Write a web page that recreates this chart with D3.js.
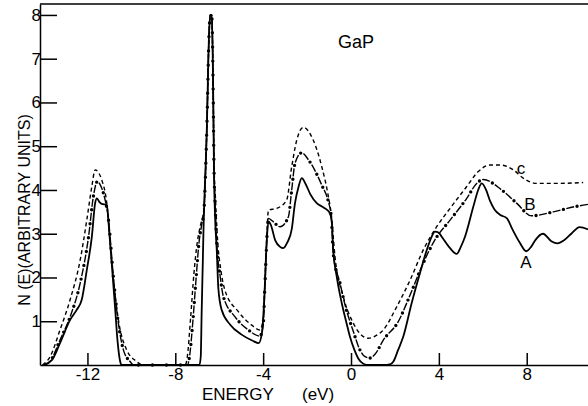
<!DOCTYPE html>
<html>
<head>
<meta charset="utf-8">
<script src="https://cdn.jsdelivr.net/npm/d3@7"></script>
<style type="text/css">
body {
	margin: 0;
	background: #fff;
}
text {
	font-family: "Liberation Sans", Arial, sans-serif;
	fill: #000;
}
.axis path, .axis line {
	stroke: #000;
	stroke-width: 1.5;
}
.curve {
	fill: none;
	stroke: #000;
	stroke-linejoin: round;
}
</style>
</head>
<body>
<svg id="chart" width="588" height="406"></svg>
<script type="text/javascript">
// energy (eV) and N(E), one pair of arrays per curve
var aE = [-14.0,-13.62,-13.25,-12.79,-12.49,-12.26,-12.03,-11.8,-11.65,-11.57,-11.45,-11.35,-11.12,-11.0,-10.89,-10.74,-10.63,-10.51,-10.45,
	-6.9,-6.84,-6.8,-6.75,-6.72,-6.57,-6.46,-6.41,-6.34,-6.3,-6.27,-6.24,-6.19,-6.11,-6.04,-5.89,-5.5,-5.0,-4.5,-4.2,-4.05,-3.95,-3.85,-3.76,-3.65,-3.45,-3.23,-3.08,-2.9,-2.7,-2.55,-2.4,-2.24,-2.05,-1.85,-1.56,-1.25,-1.0,-0.88,-0.81,-0.65,-0.42,-0.2,-0.05,0.15,0.33,0.56,0.8,
	1.5,1.8,1.93,2.15,2.38,2.76,3.14,3.45,3.67,3.82,4.0,4.13,4.51,4.81,5.0,5.19,5.57,5.79,5.95,6.15,6.33,6.54,6.8,7.1,7.35,7.68,7.98,8.2,8.4,8.74,9.12,9.4,9.7,10.03,10.41,10.79];
var aN = [0,0.11,0.5,1.03,1.26,1.49,2.17,2.93,3.7,3.81,3.72,3.68,3.66,3.0,2.3,1.3,0.55,0.08,0,
	0,0.2,1.2,2.3,3.0,5.3,7.6,8.0,8.0,7.2,6.0,4.5,3.4,2.6,1.75,1.26,0.92,0.7,0.56,0.5,0.75,1.5,2.7,3.28,3.2,2.85,2.7,2.67,2.8,3.1,3.7,4.05,4.27,4.12,3.9,3.7,3.6,3.5,3.3,2.63,2.02,1.41,0.95,0.65,0.35,0.15,0.03,0,
	0,0.02,0.08,0.35,0.65,1.41,2.1,2.63,2.93,3.05,3.02,2.93,2.67,2.54,2.7,2.93,3.62,4.0,4.15,4.0,3.75,3.55,3.43,3.35,3.1,2.8,2.6,2.7,2.86,3.0,2.83,2.78,2.85,3.0,3.15,3.1];

var bE = [-13.95,-13.7,-13.25,-12.79,-12.33,-11.95,-11.73,-11.55,-11.4,-11.27,-11.04,-10.82,-10.59,-10.36,-10.06,-9.9,
	-7.45,-7.35,-7.2,-7.05,-6.92,-6.8,-6.7,-6.57,-6.46,-6.41,-6.34,-6.3,-6.27,-6.24,-6.18,-6.1,-5.95,-5.81,-5.28,-4.67,-4.15,-4.0,-3.92,-3.82,-3.76,-3.6,-3.23,-2.85,-2.7,-2.55,-2.24,-1.94,-1.33,-1.03,-0.9,-0.81,-0.5,-0.27,0.11,0.4,0.64,0.86,
	1.1,1.47,2.15,2.69,3.22,3.82,4.51,5.27,5.72,6.02,6.86,7.54,8.22,9.21,10.2,10.79];
var bN = [0,0.08,0.57,1.1,1.87,2.93,3.85,4.19,4.1,3.92,3.31,2.02,0.95,0.34,0.08,0,
	0,0.2,1.0,2.0,2.8,3.2,3.5,5.3,7.6,8.0,8.0,7.2,6.0,4.6,3.6,2.7,2.0,1.56,1.1,0.8,0.66,0.9,1.8,3.0,3.35,3.3,3.16,3.39,4.0,4.61,4.85,4.69,4.11,3.73,3.4,2.55,1.87,1.37,0.76,0.35,0.19,0.16,
	0.25,0.57,0.99,1.6,2.25,2.86,3.31,3.81,4.15,4.24,4.0,3.7,3.41,3.5,3.62,3.67];

var cE = [-14.05,-13.7,-13.25,-12.79,-12.33,-12.03,-11.8,-11.65,-11.5,-11.35,-11.12,-10.89,-10.59,-10.21,-9.75,-9.5,
	-7.55,-7.45,-7.3,-7.15,-7.0,-6.85,-6.7,-6.57,-6.46,-6.41,-6.34,-6.3,-6.27,-6.24,-6.17,-6.08,-5.92,-5.74,-5.13,-4.52,-4.15,-4.0,-3.92,-3.82,-3.76,-3.38,-2.93,-2.7,-2.47,-2.17,-1.72,-1.33,-1.03,-0.9,-0.73,-0.35,0.11,0.56,0.79,
	1.1,1.47,2.08,2.69,3.29,3.9,4.51,5.27,5.79,6.33,6.8,7.39,7.84,8.45,9.36,10.57];
var cN = [0,0.19,0.8,1.49,2.4,3.31,4.08,4.46,4.4,4.23,3.7,2.32,1.03,0.34,0.08,0,
	0,0.2,1.1,2.1,2.8,3.2,3.55,5.3,7.6,8.0,8.0,7.2,6.0,4.7,3.8,2.9,2.15,1.71,1.22,0.91,0.8,1.05,1.9,3.1,3.54,3.58,3.77,4.53,5.14,5.43,5.14,4.53,3.85,3.45,2.48,1.56,0.95,0.65,0.61,
	0.66,0.8,1.33,1.94,2.63,3.16,3.58,4.08,4.42,4.57,4.57,4.46,4.27,4.15,4.15,4.17];

var xTicks = [-12, -8, -4, 0, 4, 8];
var yTicks = [1, 2, 3, 4, 5, 6, 7, 8];

var svg = d3.select("#chart");
var plotLeft = 40, plotRight = 588, plotTop = 4, plotBottom = 365;

var x = d3.scaleLinear().domain([-14.16, 10.79]).range([plotLeft, plotRight]);
var y = d3.scaleLinear().domain([0, 8.25]).range([plotBottom, plotTop]);

function pairs(es, ns) {
	return es.map(function(e, i) { return [e, ns[i]]; });
}

var line = d3.line()
	.x(function(d) { return x(d[0]); })
	.y(function(d) { return y(d[1]); })
	.curve(d3.curveMonotoneX);

// frame top edge
svg.append("line")
	.attr("x1", plotLeft).attr("x2", plotRight)
	.attr("y1", plotTop).attr("y2", plotTop)
	.attr("stroke", "#000").attr("stroke-width", 1.5);

var xAxis = d3.axisBottom(x)
	.tickValues(xTicks)
	.tickSizeInner(-12)
	.tickSizeOuter(0)
	.tickPadding(3)
	.tickFormat(function(d) { return String(d); });

var gx = svg.append("g").attr("class", "axis")
	.attr("transform", "translate(0," + plotBottom + ")")
	.call(xAxis);
gx.selectAll("text").style("font-size", "17px").attr("fill", "#000");

var yAxis = d3.axisLeft(y)
	.tickValues(yTicks)
	.tickSizeInner(-17)
	.tickSizeOuter(0)
	.tickPadding(-1)
	.tickFormat(function(d) { return String(d); });

var gy = svg.append("g").attr("class", "axis")
	.attr("transform", "translate(" + plotLeft + ",0)")
	.call(yAxis);
gy.selectAll("text").style("font-size", "17px").attr("fill", "#000");

// curve A: solid
svg.append("path").attr("class", "curve")
	.attr("d", line(pairs(aE, aN)))
	.attr("stroke-width", 1.8);

// curve B: dash + dot
var bPath = line(pairs(bE, bN));
svg.append("path").attr("class", "curve")
	.attr("d", bPath)
	.attr("stroke-width", 1.4)
	.attr("stroke-dasharray", "8,6");
svg.append("path").attr("class", "curve")
	.attr("d", bPath)
	.attr("stroke-width", 3.4)
	.attr("stroke-linecap", "round")
	.attr("stroke-dasharray", "0,14")
	.attr("stroke-dashoffset", -11);

// curve C: short dashes
svg.append("path").attr("class", "curve")
	.attr("d", line(pairs(cE, cN)))
	.attr("stroke-width", 1.4)
	.attr("stroke-dasharray", "4,3");

// labels
svg.append("text").attr("x", 338).attr("y", 48).style("font-size", "18px").text("GaP");
svg.append("text").attr("x", 521).attr("y", 174).attr("text-anchor", "middle").style("font-size", "17px").text("c");
svg.append("text").attr("x", 530).attr("y", 210).attr("text-anchor", "middle").style("font-size", "17px").text("B");
svg.append("text").attr("x", 526).attr("y", 268).attr("text-anchor", "middle").style("font-size", "17px").text("A");

svg.append("text").attr("x", 202).attr("y", 400).style("font-size", "17px").text("ENERGY");
svg.append("text").attr("x", 302).attr("y", 400).style("font-size", "17px").text("(eV)");

svg.append("text")
	.attr("transform", "translate(30,210) rotate(-90)")
	.attr("text-anchor", "middle")
	.style("font-size", "16px")
	.text("N (E)(ARBITRARY UNITS)");
</script>
</body>
</html>
